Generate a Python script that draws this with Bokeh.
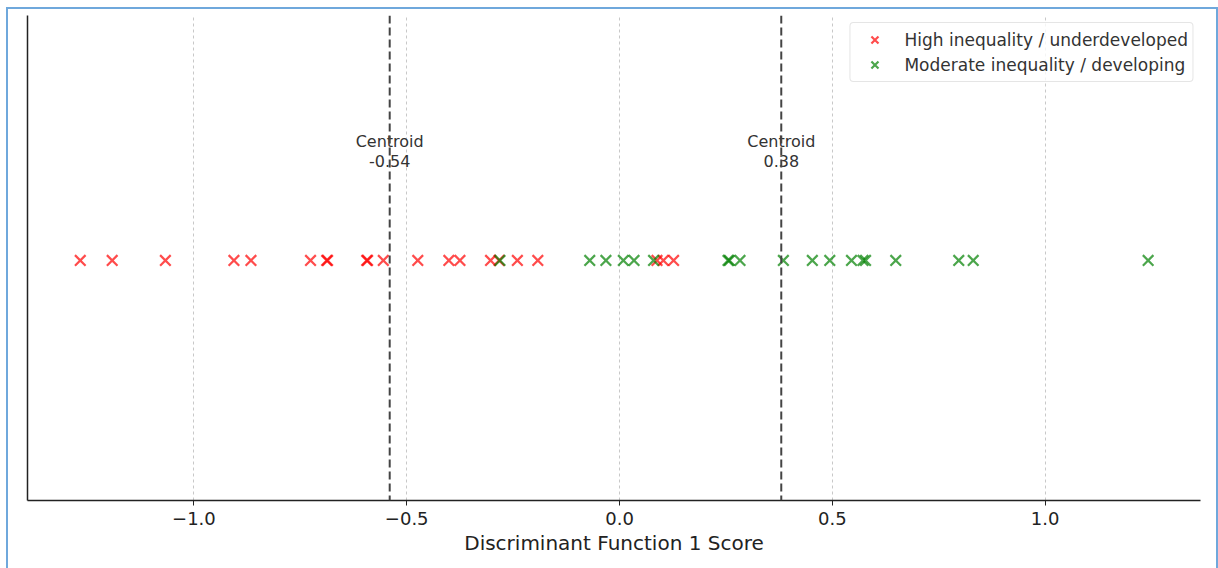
from bokeh.plotting import figure
from bokeh.models import Span, Range1d, Legend, LegendItem, ColumnDataSource, FixedTicker
from bokeh.embed import file_html
from bokeh.resources import INLINE
from bokeh.core.properties import value

# Discriminant function 1 scores by group
high_inequality = [-1.267, -1.192, -1.067, -0.906, -0.866, -0.726, -0.688, -0.686,
                   -0.594, -0.592, -0.555, -0.474, -0.401, -0.375, -0.303, -0.283,
                   -0.240, -0.192, 0.088, 0.103, 0.127]
moderate_inequality = [-0.281, -0.070, -0.032, 0.009, 0.034, 0.080, 0.255, 0.258,
                       0.283, 0.385, 0.453, 0.494, 0.545, 0.572, 0.578, 0.649,
                       0.797, 0.831, 1.242]
centroids = [-0.54, 0.38]
group_names = ["High inequality / underdeveloped", "Moderate inequality / developing"]
tick_values = [-1.0, -0.5, 0.0, 0.5, 1.0]
tick_labels = ["\u22121.0", "\u22120.5", "0.0", "0.5", "1.0"]

FONT = "DejaVu Sans"

p = figure(width=1208, height=559, output_backend="svg", toolbar_location=None,
           x_range=Range1d(-1.391, 1.365), y_range=Range1d(-0.99, 1.01),
           min_border_left=19, min_border_right=16, min_border_top=6, min_border_bottom=68)
p.margin = (9, 0, 0, 8)
p.styles = {"outline": "2px solid #6fa8dc"}
p.outline_line_color = None
p.background_fill_color = "white"

# grid
p.xgrid.ticker = FixedTicker(ticks=tick_values)
p.xgrid.grid_line_color = "#c8c8c8"
p.xgrid.grid_line_dash = "3 3"
p.xgrid.grid_line_width = 1
p.ygrid.grid_line_color = None

# x axis
p.xaxis.ticker = FixedTicker(ticks=tick_values)
p.xaxis.major_label_overrides = {v: l for v, l in zip(tick_values, tick_labels)}
p.xaxis.axis_label = "Discriminant Function 1 Score"
p.xaxis.axis_label_text_font = FONT
p.xaxis.axis_label_text_font_style = "normal"
p.xaxis.axis_label_text_font_size = "20px"
p.xaxis.axis_label_text_color = "#222222"
p.xaxis.axis_label_standoff = 3
p.xaxis.major_label_text_font = FONT
p.xaxis.major_label_text_font_size = "18px"
p.xaxis.major_label_text_color = "#222222"
p.xaxis.major_label_standoff = 6
p.xaxis.major_tick_out = 5
p.xaxis.major_tick_in = 0
p.xaxis.minor_tick_line_color = None
p.xaxis.axis_line_color = "#222222"
p.xaxis.axis_line_width = 1.5
p.xaxis.major_tick_line_color = "#222222"

# y axis: spine only
p.yaxis.ticker = FixedTicker(ticks=[])
p.yaxis.major_label_text_font_size = "0px"
p.yaxis.major_tick_line_color = None
p.yaxis.minor_tick_line_color = None
p.yaxis.axis_line_color = "#222222"
p.yaxis.axis_line_width = 1.5

# centroid lines
for c in centroids:
    p.add_layout(Span(location=c, dimension="height", line_color="#444444",
                      line_dash="8 4", line_width=2))

txt = ColumnDataSource(dict(x=centroids,
                            y=[0.45] * len(centroids),
                            t=["Centroid\n%.2f" % c for c in centroids]))
p.text(x="x", y="y", text="t", source=txt, text_align="center", text_baseline="middle",
       text_font=value(FONT), text_font_size="16px", text_color="#333333",
       text_line_height=1.05)

# points
r1 = p.scatter(x=high_inequality, y=[0.0] * len(high_inequality), marker="x", size=15,
               line_color="red", line_alpha=0.7, line_width=2.2)
r2 = p.scatter(x=moderate_inequality, y=[0.0] * len(moderate_inequality), marker="x", size=15,
               line_color="green", line_alpha=0.7, line_width=2.2)

legend = Legend(items=[LegendItem(label=group_names[0], renderers=[r1]),
                       LegendItem(label=group_names[1], renderers=[r2])],
                location="top_right")
legend.margin = 7
legend.padding = 4
legend.glyph_width = 40
legend.glyph_height = 25
legend.label_height = 25
legend.label_standoff = 10
legend.spacing = 0
legend.label_text_font = FONT
legend.label_text_font_size = "17px"
legend.label_text_color = "#333333"
legend.border_line_color = "#cccccc"
legend.border_line_width = 1
legend.border_radius = 4
legend.background_fill_alpha = 0.8
p.add_layout(legend)

open("out.html", "w").write(file_html(p, INLINE))
